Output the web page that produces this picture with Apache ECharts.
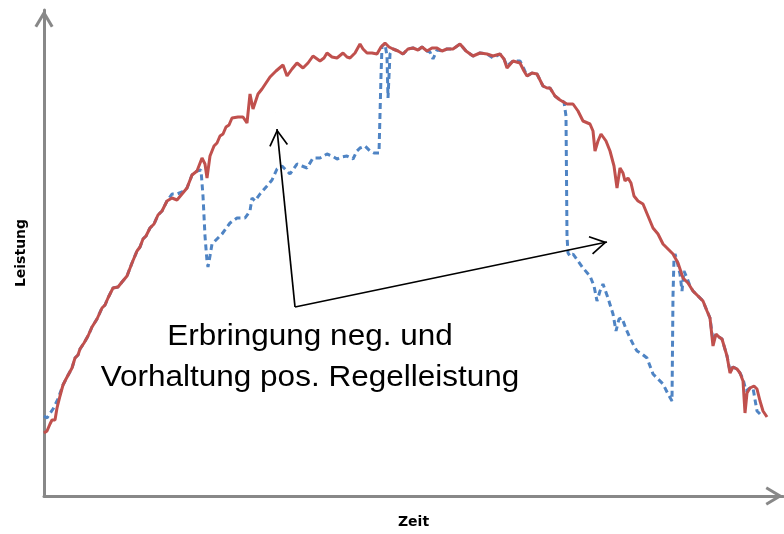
<!DOCTYPE html>
<html>
<head>
<meta charset="utf-8">
<script src="https://cdn.jsdelivr.net/npm/echarts@6/dist/echarts.min.js"></script>
<style>
html,body{margin:0;padding:0;background:#fff;}
#chart{width:784px;height:534px;}
</style>
</head>
<body>
<div id="chart"></div>
<script>
// Time (x) vs power (y) (arbitrary units)
var xName = 'Zeit';
var yName = 'Leistung';
var annotationLines = ['Erbringung neg. und', 'Vorhaltung pos. Regelleistung'];

// Red solid: available power
var redSeries = [
[0,63],[3,65],[6,72],[8,76],[11,76],[13,88],[16,100],[19,111],[22,117],[24,117],[28,128],[31,138],[34,141],[36,147],[40,153],[44,160],[48,169],[53,177],[58,188],[61,191],[64,198],[69,208],[74,209],[78,214],[83,220],[88,233],[93,245],[96,249],[99,257],[102,260],[106,268],[110,272],[114,281],[118,285],[123,295],[128,298],[133,296],[138,302],[143,308],[148,321],[153,325],[158,338],[161,332],[163,318],[166,340],[170,350],[173,353],[176,360],[179,362],[182,369],[185,371],[188,378],[194,379],[199,379],[203,373],[206,402],[209,387],[211,385],[214,402],[218,407],[222,413],[226,419],[232,425],[239,431],[243,420],[248,427],[253,433],[259,428],[264,433],[269,440],[276,435],[280,438],[283,443],[288,439],[293,438],[299,443],[303,439],[306,438],[311,443],[316,452],[319,447],[323,443],[328,443],[333,442],[337,449],[341,453],[345,449],[349,447],[354,445],[359,442],[364,447],[369,448],[374,446],[378,449],[383,445],[388,448],[393,448],[398,445],[403,447],[409,447],[416,452],[422,445],[429,440],[436,443],[443,442],[449,440],[456,442],[460,437],[463,428],[469,435],[476,433],[480,425],[483,420],[488,423],[493,422],[499,410],[503,408],[506,408],[511,400],[516,396],[523,392],[529,392],[534,385],[539,375],[546,372],[549,365],[551,345],[554,355],[557,362],[562,355],[566,345],[570,330],[573,308],[576,328],[579,323],[581,315],[584,318],[587,313],[590,300],[594,295],[599,292],[604,280],[609,268],[614,262],[619,252],[624,247],[629,242],[634,233],[639,218],[644,213],[649,205],[654,200],[659,195],[663,185],[666,178],[669,150],[672,162],[675,159],[678,157],[683,140],[686,123],[689,129],[693,127],[696,123],[699,115],[701,83],[703,103],[706,108],[710,110],[713,107],[716,95],[719,85],[723,79]
];

// Blue dashed: actual power with control-reserve events
var blueSeries = [
[0,80],[3,78],[9,87],[14,97],[19,111],[22,117],[24,117],[28,128],[31,138],[34,141],[36,147],[40,153],[44,160],[48,169],[53,177],[58,188],[61,191],[64,198],[69,208],[74,209],[78,214],[83,220],[88,233],[93,245],[96,249],[99,257],[102,260],[106,268],[110,272],[114,281],[118,285],[123,295],[128,302],[133,302],[138,304],[143,308],[148,321],[153,325],[157,326],[159,300],[161,260],[163,235],[164,229],[166,240],[168,252],[173,257],[178,262],[186,273],[193,278],[201,278],[206,285],[208,298],[211,295],[216,302],[223,310],[228,316],[233,327],[238,330],[243,325],[246,322],[253,332],[258,330],[263,328],[269,338],[276,338],[283,342],[288,340],[293,337],[298,339],[303,340],[309,337],[313,345],[316,348],[321,350],[326,345],[330,343],[335,343],[337,420],[338,450],[341,452],[343,440],[344,398],[345,400],[346,442],[349,447],[354,445],[359,442],[364,447],[369,448],[374,446],[378,449],[383,445],[386,444],[389,437],[393,446],[398,445],[403,447],[409,447],[416,452],[422,445],[429,440],[436,443],[443,442],[449,438],[456,442],[460,437],[463,430],[469,435],[476,435],[480,427],[483,420],[488,423],[493,422],[499,410],[503,408],[506,408],[511,400],[516,396],[520,394],[522,380],[523,260],[524,243],[526,240],[529,242],[534,235],[539,228],[546,220],[550,210],[553,195],[556,205],[559,212],[564,198],[569,182],[572,165],[575,177],[578,178],[582,167],[586,158],[590,150],[593,145],[598,142],[603,138],[606,130],[609,122],[614,117],[619,112],[624,102],[628,95],[629,200],[630,238],[631,242],[633,235],[636,222],[638,205],[640,225],[643,218],[646,210],[649,205],[654,200],[659,195],[663,185],[666,178],[669,155],[672,162],[675,159],[678,157],[683,140],[686,125],[689,129],[693,127],[696,123],[699,117],[702,105],[706,108],[709,108],[713,85],[716,82]
];

// Annotation arrows (data coordinates): common start, two tips
var arrowStart = [251, 189];
var arrowTips = [[233, 367], [563, 254]];

var xMax = 739, yMax = 486;

// open chevron arrow heads (tip at centre of bounding box)
var axisArrow = 'path://M9.5,-0.5L9.6,-0.5L9.5,-0.4ZM0,33L9.5,17L19,33L16.4,34.5L9.5,22.9L2.6,34.5Z';
var thinArrow = 'path://M9.5,0.13L9.6,0.13L9.5,0.2ZM0,33L9.5,17L19,33L17.54,33.87L9.5,20.3L1.46,33.87Z';

var chart = echarts.init(document.getElementById('chart'), null, {renderer: 'canvas'});
var axisColor = '#888888';
var option = {
  animation: false,
  backgroundColor: '#ffffff',
  grid: {left: 44, right: 1, top: 10, bottom: 38},
  xAxis: {
    type: 'value', min: 0, max: xMax,
    name: xName, nameLocation: 'middle', nameGap: 19,
    nameTextStyle: {fontFamily: 'DejaVu Sans', fontWeight: 'bold', fontSize: 14, color: '#000'},
    axisLine: {show: true, symbol: ['none', axisArrow], symbolSize: [19, 35], lineStyle: {color: axisColor, width: 3}},
    axisTick: {show: false}, axisLabel: {show: false}, splitLine: {show: false}
  },
  yAxis: {
    type: 'value', min: 0, max: yMax,
    name: yName, nameLocation: 'middle', nameGap: 16,
    nameTextStyle: {fontFamily: 'DejaVu Sans', fontWeight: 'bold', fontSize: 14, color: '#000'},
    axisLine: {show: true, symbol: ['none', axisArrow], symbolSize: [19, 35], lineStyle: {color: axisColor, width: 3}},
    axisTick: {show: false}, axisLabel: {show: false}, splitLine: {show: false}
  },
  series: [
    {
      type: 'line', data: blueSeries, showSymbol: false, symbol: 'none', smooth: false,
      lineStyle: {color: '#4f84c4', width: 3, type: [6, 4]},
      silent: true, z: 2
    },
    {
      type: 'line', data: redSeries, showSymbol: false, symbol: 'none', smooth: false,
      lineStyle: {color: '#c0504d', width: 3},
      silent: true, z: 3,
      markLine: {
        silent: true,
        symbol: ['none', thinArrow],
        symbolSize: [19, 34],
        label: {show: false},
        lineStyle: {color: '#000', width: 1.7, type: 'solid'},
        emphasis: {disabled: true},
        data: arrowTips.map(function (t) { return [{coord: arrowStart}, {coord: t}]; })
      }
    }
  ],
  graphic: annotationLines.map(function (txt, i) {
    return {
      type: 'text', x: 310, y: 337 + i * 41, scaleX: 1.05, silent: true,
      style: {text: txt, x: 0, y: 0, textAlign: 'center', textVerticalAlign: 'middle',
              font: '30px "Liberation Sans", Arial, sans-serif', fill: '#000'}
    };
  })
};
chart.setOption(option);
</script>
</body>
</html>
